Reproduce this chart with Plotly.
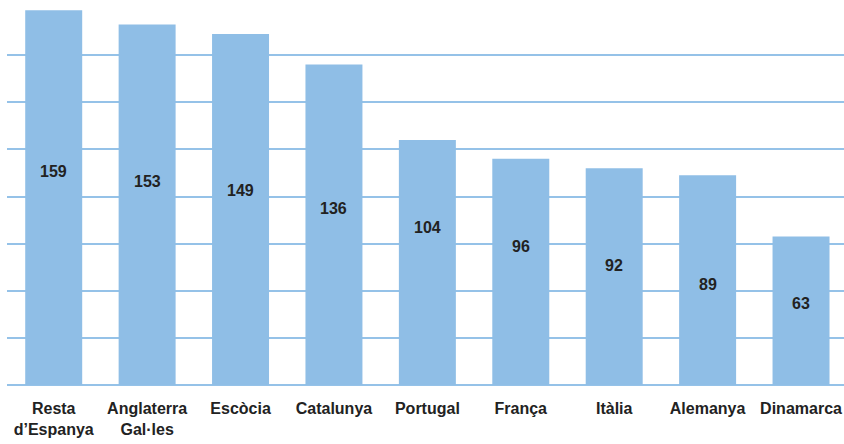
import plotly.graph_objects as go

categories = ["Resta<br>d’Espanya", "Anglaterra<br>Gal·les", "Escòcia", "Catalunya",
              "Portugal", "França", "Itàlia", "Alemanya", "Dinamarca"]
values = [159, 153, 149, 136, 104, 96, 92, 89, 63]
grid_ticks = [0, 20, 40, 60, 80, 100, 120, 140, 160]

BAR = "#8FBEE6"
GRID = "#95C2E8"
TXT = "#222222"
FONT = "Liberation Sans"

x_idx = list(range(len(categories)))

fig = go.Figure()
fig.add_trace(go.Bar(x=x_idx, y=values, marker=dict(color=BAR, line=dict(width=0)),
                     width=0.61, hoverinfo="skip"))

# value labels, placed on a descending diagonal as in the original layout
for i, v in enumerate(values):
    ly = min(90.5 - 4 * i, 98.7 - 8 * i)
    fig.add_annotation(x=i, y=ly, text=f"<b>{v}</b>", showarrow=False,
                       font=dict(family=FONT, size=16, color=TXT), xref="x", yref="y")

fig.update_layout(
    width=844, height=444,
    margin=dict(l=7, r=0, t=8, b=59),
    plot_bgcolor="white", paper_bgcolor="white",
    showlegend=False,
    bargap=0.39,
    xaxis=dict(tickmode="array", tickvals=x_idx,
               ticktext=[f"<b>{c}</b>" for c in categories],
               tickfont=dict(family=FONT, size=16, color=TXT),
               showgrid=False, zeroline=False, showline=False, ticks="",
               ticklabelstandoff=12,
               range=[-0.5, len(categories) - 0.54], fixedrange=True),
    yaxis=dict(range=[0, 160], tickvals=grid_ticks, showticklabels=False,
               showgrid=True, gridcolor=GRID, gridwidth=1.6,
               zeroline=True, zerolinecolor=GRID, zerolinewidth=1.6,
               showline=False, ticks="", fixedrange=True),
)

fig.write_html("out.html", config={"displayModeBar": False},
               post_script="document.body.style.margin='0';")
